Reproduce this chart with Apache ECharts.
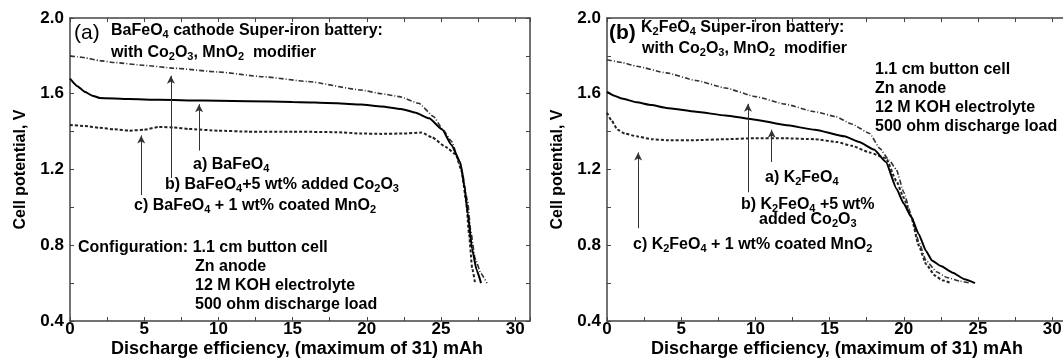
<!DOCTYPE html>
<html>
<head>
<meta charset="utf-8">
<script src="https://cdn.jsdelivr.net/npm/echarts@6/dist/echarts.min.js"></script>
<style>
html,body{margin:0;padding:0;background:#fff;}
#c{width:1063px;height:358px;}
</style>
</head>
<body>
<div id="c"></div>
<script>
// ---------- DATA ----------
// Panel (a): BaFeO4 cathode  [discharge mAh, cell potential V]
const a_BaFeO4 = [[0,1.68],[0.5,1.64],[1,1.61],[1.5,1.59],[2,1.578],[4,1.572],[6,1.568],[8,1.565],[10,1.563],[12,1.561],[15,1.557],[18,1.55],[19.6,1.543],[21,1.533],[22.3,1.52],[23.3,1.50],[24.2,1.47],[25.1,1.41],[25.7,1.33],[26.3,1.24],[26.6,1.10],[26.8,0.97],[27.1,0.78],[27.4,0.67],[27.7,0.60]];
const a_Co2O3 = [[0,1.80],[0.5,1.795],[1,1.79],[2,1.775],[3,1.765],[5,1.75],[7,1.735],[10,1.715],[13,1.69],[16,1.665],[19.6,1.62],[21,1.60],[22.2,1.585],[23.5,1.55],[24.5,1.48],[25.1,1.415],[25.7,1.35],[26.4,1.20],[26.8,1.03],[27.0,0.88],[27.3,0.73],[27.7,0.65],[28.1,0.60]];
const a_MnO2 = [[0,1.435],[1,1.43],[2,1.42],[3,1.412],[4,1.405],[5,1.41],[6,1.425],[7,1.422],[8,1.414],[10,1.405],[12,1.40],[15,1.40],[18,1.397],[19.6,1.39],[21,1.388],[22.5,1.39],[23.7,1.395],[24.4,1.37],[25.3,1.32],[26.0,1.28],[26.4,1.19],[26.7,1.03],[26.9,0.85],[27.1,0.68],[27.3,0.60]];

// Panel (b): K2FeO4 cathode
const b_K2FeO4 = [[0,1.61],[0.5,1.59],[1,1.575],[2,1.555],[3,1.54],[4,1.525],[6,1.505],[8,1.485],[10,1.463],[12,1.435],[14,1.41],[16,1.375],[17,1.345],[18,1.305],[18.8,1.24],[19.5,1.10],[20,1.02],[20.5,0.95],[21,0.86],[21.5,0.77],[21.9,0.72],[22.5,0.69],[23.3,0.655],[24.1,0.62],[24.8,0.60]];
const b_Co2O3 = [[0,1.78],[1,1.765],[2,1.745],[4,1.71],[6,1.67],[8,1.63],[10,1.585],[12,1.545],[14,1.505],[15.4,1.48],[16.5,1.44],[17.7,1.39],[18.4,1.31],[19,1.25],[19.5,1.20],[20,1.08],[20.5,0.96],[21,0.82],[21.5,0.72],[22.2,0.66],[22.9,0.63],[23.8,0.61],[24.5,0.60]];
const b_MnO2 = [[0,1.50],[0.3,1.46],[0.7,1.41],[1.2,1.39],[2,1.375],[3,1.36],[4,1.355],[6,1.355],[8,1.36],[10,1.365],[12,1.365],[14,1.36],[15.5,1.345],[16.5,1.325],[17.7,1.29],[18.8,1.26],[19.5,1.14],[20,1.05],[20.5,0.95],[21,0.80],[21.5,0.70],[22.1,0.64],[22.6,0.615],[23.2,0.60]];

// Annotation arrows: [x, tail V, head V]
const a_arrows = [[6.8,1.155,1.695],[8.7,1.30,1.545],[4.8,1.065,1.38]];
const b_arrows = [[2.1,0.89,1.29],[9.5,1.08,1.547],[11.1,1.24,1.41]];

// Axis ticks
const xTicks = {min:0, max:31, interval:5};
const yTicks = {min:0.4, max:2.0, interval:0.4};

// ---------- CHART ----------
const FF = 'Liberation Sans, Arial, Helvetica, sans-serif';
const AX = '#444';
const chart = echarts.init(document.getElementById('c'), null, {renderer:'canvas'});

function xAx(grid, pos){
  const bottom = pos === 'bottom';
  return {
    type:'value', gridIndex:grid, position:pos, min:xTicks.min, max:xTicks.max, interval:xTicks.interval,
    axisLine:{show:true, onZero:false, lineStyle:{color:AX, width:1.5}},
    axisTick:{show:true, inside:true, length:4, lineStyle:{color:AX, width:1}},
    minorTick:{show:true, splitNumber:2, length:4, lineStyle:{color:AX, width:1}},
    splitLine:{show:false}, minorSplitLine:{show:false},
    axisLabel:{show:bottom, color:'#000', fontSize:17, fontWeight:'bold', fontFamily:FF, margin:0,
      formatter:v => (v % 5 === 0 ? String(v) : '')}
  };
}
function yAx(grid, pos){
  const left = pos === 'left';
  return {
    type:'value', gridIndex:grid, position:pos, min:yTicks.min, max:yTicks.max, interval:yTicks.interval,
    axisLine:{show:true, onZero:false, lineStyle:{color:AX, width:1.5}},
    axisTick:{show:true, inside:true, length:4, lineStyle:{color:AX, width:1}},
    minorTick:{show:true, splitNumber:2, length:4, lineStyle:{color:AX, width:1}},
    splitLine:{show:false}, minorSplitLine:{show:false},
    axisLabel:{show:left, color:'#000', fontSize:17, fontWeight:'bold', fontFamily:FF, margin:6,
      formatter:v => v.toFixed(1)},
    name: left ? 'Cell potential, V' : '',
    nameLocation:'middle', nameGap:41, nameMoveOverlap:false,
    nameTextStyle:{color:'#000', fontSize:16, fontWeight:'bold', fontFamily:FF}
  };
}

const styleA = {color:'#000', width:2, type:'solid'};
const styleB = {color:'#333', width:1.6, type:[5,2,1,2]};
const styleC = {color:'#222', width:2, type:[3,2]};

function lineSeries(data, ls, xi, yi){
  return {type:'line', data, xAxisIndex:xi, yAxisIndex:yi, showSymbol:false, smooth:0.15, smoothMonotone:'x',
    lineStyle:ls, itemStyle:{color:ls.color}, silent:true, z:3};
}
function arrowSeries(arrows, xi, yi){
  return {type:'line', data:[], xAxisIndex:xi, yAxisIndex:yi, silent:true,
    markLine:{silent:true, symbol:['none','arrow'], symbolSize:[6,8], label:{show:false},
      lineStyle:{color:'#333', width:1, type:'solid'}, animation:false,
      data: arrows.map(r => [{coord:[r[0], r[1]]}, {coord:[r[0], r[2]]}])}};
}

const sub = sz => ({fontSize:Math.round(sz*0.68), fontWeight:'bold', fontFamily:FF, fill:'#000', verticalAlign:'bottom', lineHeight:Math.round(sz*0.95)});
function T(x, y, text, size, weight, align){
  return {type:'text', x:x, y:y, silent:true, z:10,
    style:{text:text, fill:'#000', fontSize:size, fontWeight:weight || 'bold', fontFamily:FF,
      verticalAlign:'middle', align:align || 'left', lineHeight:Math.round(size*1.2),
      rich:{s:sub(size), n:{fontSize:size, fontWeight:weight || 'bold', fontFamily:FF, fill:'#000'}}}};
}
const XNAME = 'Discharge efficiency, (maximum of 31) mAh';

const option = {
  animation:false,
  backgroundColor:'#fff',
  grid:[
    {left:70, top:18, width:460, height:303, outerBoundsMode:'none'},
    {left:607, top:18, width:460, height:303, outerBoundsMode:'none'}
  ],
  xAxis:[xAx(0,'bottom'), xAx(0,'top'), xAx(1,'bottom'), xAx(1,'top')],
  yAxis:[yAx(0,'left'), yAx(0,'right'), yAx(1,'left'), yAx(1,'right')],
  series:[
    lineSeries(a_MnO2, styleC, 0, 0),
    lineSeries(a_Co2O3, styleB, 0, 0),
    lineSeries(a_BaFeO4, styleA, 0, 0),
    arrowSeries(a_arrows, 0, 0),
    lineSeries(b_MnO2, styleC, 2, 2),
    lineSeries(b_Co2O3, styleB, 2, 2),
    lineSeries(b_K2FeO4, styleA, 2, 2),
    arrowSeries(b_arrows, 2, 2)
  ],
  graphic:[
    T(297, 349, XNAME, 18, 'bold', 'center'),
    T(837, 349, XNAME, 18, 'bold', 'center'),

    T(74, 33, '(a)', 21, 'normal'),
    T(111, 31, 'BaFeO{s|4} cathode Super-iron battery:', 16),
    T(111, 53, 'with Co{s|2}O{s|3}, MnO{s|2}  modifier', 16),
    T(193, 165, 'a) BaFeO{s|4}', 16),
    T(165, 185, 'b) BaFeO{s|4}+5 wt% added Co{s|2}O{s|3}', 16),
    T(134, 206, 'c) BaFeO{s|4} + 1 wt% coated MnO{s|2}', 16),
    T(78, 248, 'Configuration: 1.1 cm button cell', 16),
    T(195, 267, 'Zn anode', 16),
    T(195, 286, '12 M KOH electrolyte', 16),
    T(195, 305, '500 ohm discharge load', 16),

    T(609, 33, '(b)', 21),
    T(641, 28, 'K{s|2}FeO{s|4} Super-iron battery:', 16),
    T(642, 49, 'with Co{s|2}O{s|3}, MnO{s|2}  modifier', 16),
    T(875, 70, '1.1 cm button cell', 16),
    T(875, 89, 'Zn anode', 16),
    T(875, 108, '12 M KOH electrolyte', 16),
    T(875, 127, '500 ohm discharge load', 16),
    T(765, 178, 'a) K{s|2}FeO{s|4}', 16),
    T(741, 205, 'b) K{s|2}FeO{s|4} +5 wt%', 16),
    T(759, 220, 'added Co{s|2}O{s|3}', 16),
    T(633, 245, 'c) K{s|2}FeO{s|4} + 1 wt% coated MnO{s|2}', 16)
  ]
};
chart.setOption(option);
</script>
</body>
</html>
